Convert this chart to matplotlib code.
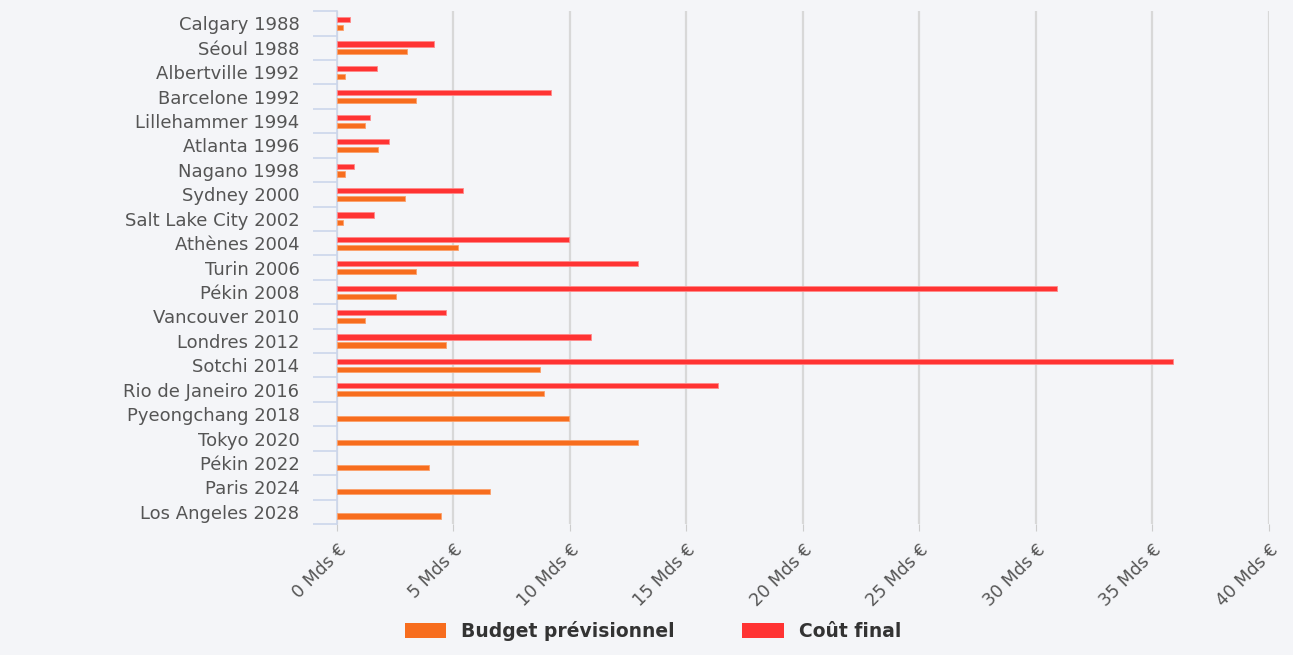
import matplotlib.pyplot as plt
import numpy as np
from matplotlib.patches import Patch

# Jeux olympiques : budget prévisionnel vs coût final (milliards d'euros)
events = [
    "Calgary 1988", "Séoul 1988", "Albertville 1992", "Barcelone 1992",
    "Lillehammer 1994", "Atlanta 1996", "Nagano 1998", "Sydney 2000",
    "Salt Lake City 2002", "Athènes 2004", "Turin 2006", "Pékin 2008",
    "Vancouver 2010", "Londres 2012", "Sotchi 2014", "Rio de Janeiro 2016",
    "Pyeongchang 2018", "Tokyo 2020", "Pékin 2022", "Paris 2024",
    "Los Angeles 2028",
]
budget = [0.25, 3.0, 0.35, 3.4, 1.2, 1.75, 0.35, 2.9, 0.25, 5.2, 3.4, 2.55,
          1.2, 4.7, 8.7, 8.9, 9.95, 12.9, 3.95, 6.55, 4.45]
final_cost = [0.55, 4.15, 1.7, 9.2, 1.4, 2.25, 0.75, 5.4, 1.6, 9.95, 12.9, 30.9,
              4.7, 10.9, 35.9, 16.35, np.nan, np.nan, np.nan, np.nan, np.nan]
x_ticks = list(range(0, 45, 5))

bg = "#f4f5f8"
orange = "#f76d1e"
red = "#ff3333"
label_col = "#555555"

fig = plt.figure(figsize=(12.93, 6.55), dpi=100, facecolor=bg)
ax = fig.add_axes([0.2606, 0.2, 0.7208, 0.783])
ax.set_facecolor(bg)

y = np.arange(len(events))
h = 0.21
ax.barh(y - 0.155, final_cost, height=h, color=red, edgecolor="#ff8a8a",
        linewidth=0.6, zorder=3)
ax.barh(y + 0.17, budget, height=h, color=orange, edgecolor="#fba06a",
        linewidth=0.6, zorder=3)

ax.set_xlim(0, 40)
ax.set_ylim(len(events) - 0.5, -0.5)

ax.set_xticks(x_ticks)
ax.set_xticklabels([f"{v} Mds €" for v in x_ticks], rotation=45, ha="right",
                   rotation_mode="anchor", color=label_col, fontsize=12.5)
ax.tick_params(axis="x", length=5, color="#cccccc", pad=7)
ax.grid(axis="x", color="#d8d8d8", linewidth=1.6, zorder=0)

ax.set_yticks(y)
ax.set_yticklabels(events, color=label_col, fontsize=13)
ax.tick_params(axis="y", which="major", length=0, pad=27)
ax.set_yticks(np.arange(-0.5, len(events)), minor=True)
ax.tick_params(axis="y", which="minor", length=17, color="#ccd6eb", width=1.2)

for s in ["top", "right", "bottom"]:
    ax.spines[s].set_visible(False)
ax.spines["left"].set_color("#ccd6eb")
ax.spines["left"].set_linewidth(1.2)

handles = [Patch(facecolor=orange, label="Budget prévisionnel"),
           Patch(facecolor=red, label="Coût final")]
fig.legend(handles=handles, loc="center", bbox_to_anchor=(0.505, 0.037),
           ncol=2, frameon=False, handlelength=2.2, handleheight=0.9,
           handletextpad=0.8, columnspacing=3.6,
           prop={"weight": "bold", "size": 13.5}, labelcolor="#333333")

fig.savefig("out.png", dpi=100, facecolor=bg)
